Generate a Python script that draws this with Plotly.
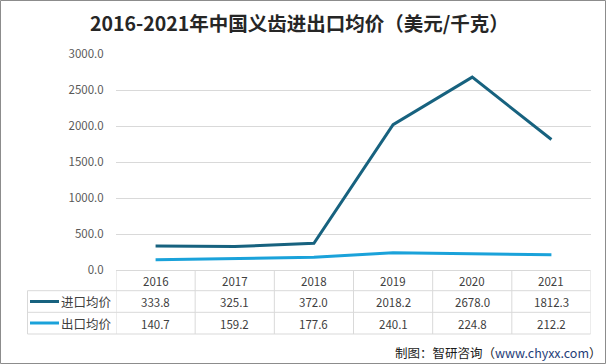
import plotly.graph_objects as go

years = ["2016", "2017", "2018", "2019", "2020", "2021"]
import_price = [333.8, 325.1, 372.0, 2018.2, 2678.0, 1812.3]
export_price = [140.7, 159.2, 177.6, 240.1, 224.8, 212.2]
series_names = ["进口均价", "出口均价"]
y_ticks = [0, 500, 1000, 1500, 2000, 2500, 3000]

W, H = 606, 364
L, R, T, B = 116, 15, 54, 94
PW, PH = W - L - R, H - T - B

def px(x):
    return (x - L) / PW

def py(y):
    return (H - B - y) / PH

dark = "#17627F"
light = "#1AA2DA"
grid = "#D9D9D9"
font = "Noto Sans CJK SC, Microsoft YaHei, sans-serif"

fig = go.Figure()
fig.add_trace(go.Scatter(x=years, y=import_price, mode="lines", name=series_names[0],
                         line=dict(color=dark, width=3)))
fig.add_trace(go.Scatter(x=years, y=export_price, mode="lines", name=series_names[1],
                         line=dict(color=light, width=3)))

shapes = []
# outer border
shapes.append(dict(type="rect", xref="paper", yref="paper", x0=px(0.5), x1=px(W - 0.5),
                   y0=py(H - 0.5), y1=py(0.5), line=dict(color="#8C8C8C", width=1)))
# table horizontal lines
rows_y = [290.7, 312.3, 334]
shapes.append(dict(type="line", xref="paper", yref="paper", x0=px(116), x1=px(590.5),
                   y0=py(270.5), y1=py(270.5), line=dict(color=grid, width=1)))
for yy in rows_y:
    shapes.append(dict(type="line", xref="paper", yref="paper", x0=px(27.5), x1=px(590.5),
                       y0=py(yy), y1=py(yy), line=dict(color=grid, width=1)))
# verticals
shapes.append(dict(type="line", xref="paper", yref="paper", x0=px(27.5), x1=px(27.5),
                   y0=py(290.7), y1=py(334), line=dict(color=grid, width=1)))
for i in range(len(years) + 1):
    shapes.append(dict(type="line", xref="x", yref="paper", x0=i - 0.5, x1=i - 0.5,
                       y0=py(270.5), y1=py(334), line=dict(color=grid, width=1)))
# legend keys
for yy, c in [(301.5, dark), (323, light)]:
    shapes.append(dict(type="line", xref="paper", yref="paper", x0=px(30), x1=px(59),
                       y0=py(yy), y1=py(yy), line=dict(color=c, width=3)))

ann = []
tcol = "#404040"
cell = dict(showarrow=False, xanchor="center", yanchor="middle",
            font=dict(size=11.5, color=tcol, family=font))
for i, yr in enumerate(years):
    ann.append(dict(x=i, xref="x", y=py(281), yref="paper", text=yr, **cell))
    ann.append(dict(x=i, xref="x", y=py(302), yref="paper", text=f"{import_price[i]:.1f}", **cell))
    ann.append(dict(x=i, xref="x", y=py(323.5), yref="paper", text=f"{export_price[i]:.1f}", **cell))
for name, yy in zip(series_names, [301.5, 323]):
    ann.append(dict(x=px(59), xref="paper", y=py(yy), yref="paper", text=name,
                    xanchor="left", yanchor="middle",
                    showarrow=False, font=dict(size=12.5, color=tcol, family=font)))

ann.append(dict(x=px(604), xref="paper", y=py(352.5), yref="paper", xanchor="right",
                yanchor="middle",
                text="制图：智研咨询（<span style='color:#1F3E78'>www.chyxx.com</span>）",
                showarrow=False, font=dict(size=12.5, color="#1A1A1A", family=font)))

fig.update_layout(
    width=W, height=H,
    margin=dict(l=L, r=R, t=T, b=B, autoexpand=False),
    paper_bgcolor="white", plot_bgcolor="white",
    showlegend=False,
    title=dict(text="<b>2016-2021年中国义齿进出口均价（美元/千克）</b>", x=0.494, xanchor="center",
               y=1 - 24 / H, yanchor="middle",
               font=dict(size=19.5, color="#262626", family=font)),
    xaxis=dict(type="category", range=[-0.5, 5.5], showticklabels=False, showgrid=False,
               zeroline=False, showline=False, ticks="", automargin=False),
    yaxis=dict(range=[0, 3000], tickvals=y_ticks, tickformat=".1f", showgrid=True,
               gridcolor=grid, gridwidth=1, zeroline=False, showline=False,
               ticks="outside", ticklen=9, tickcolor="rgba(0,0,0,0)", automargin=False,
               tickfont=dict(size=11.5, color="#595959", family=font)),
    shapes=shapes, annotations=ann,
)

fig.write_html("out.html", config={"displayModeBar": False},
               post_script="document.body.style.margin='0';")
